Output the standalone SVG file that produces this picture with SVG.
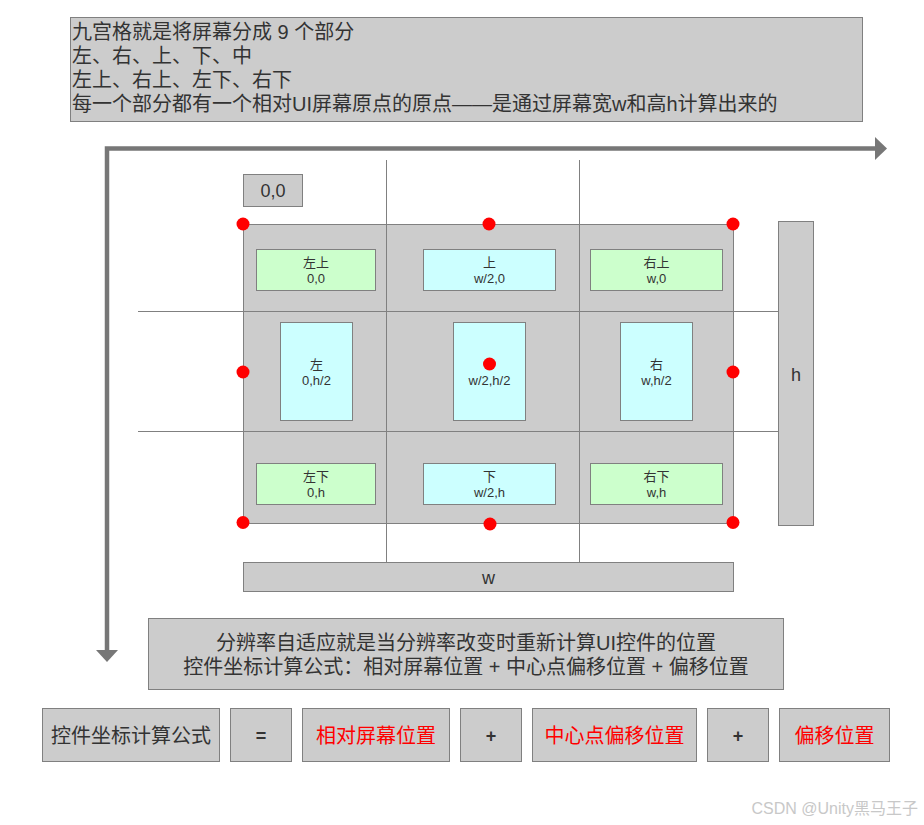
<svg xmlns="http://www.w3.org/2000/svg" width="924" height="825" viewBox="0 0 924 825">
<style>
text{font-family:"Liberation Sans","Noto Sans CJK SC",sans-serif;fill:#333333;}
.box{fill:#cccccc;stroke:#808080;stroke-width:1;}
.grn{fill:#ccffcc;stroke:#808080;stroke-width:1;}
.cyn{fill:#ccffff;stroke:#808080;stroke-width:1;}
.grid{stroke:#808080;stroke-width:1;fill:none;}
.dot{fill:#ff0000;}
.s13{font-size:13px;text-anchor:middle;}
.s20{font-size:20px;}
.c{text-anchor:middle;}
.red{fill:#ff0000;}
.axis{stroke:#777777;stroke-width:4.5;fill:none;}
.head{fill:#777777;}
</style>
<rect width="924" height="825" fill="#ffffff"/>

<g id="intro">
<rect class="box" x="70.5" y="17.5" width="792" height="104"/>
<text class="s20" x="72" y="39">九宫格就是将屏幕分成 9 个部分</text>
<text class="s20" x="72" y="63">左、右、上、下、中</text>
<text class="s20" x="72" y="87">左上、右上、左下、右下</text>
<text class="s20" x="72" y="111">每一个部分都有一个相对UI屏幕原点的原点——是通过屏幕宽w和高h计算出来的</text>
</g>

<g id="connectors">
<path class="axis" d="M107,651 V148.5 H876"/>
<polygon class="head" points="875,137 887,148.5 875,160"/>
<polygon class="head" points="96,650 118,650 107,662"/>
</g>

<g id="origin-label">
<rect class="box" x="243.5" y="174.5" width="59" height="32"/>
<text class="c" x="273" y="197" font-size="18">0,0</text>
</g>

<g id="screen">
<rect class="box" x="243.5" y="224.5" width="490" height="299"/>
</g>

<g id="grid-lines">
<line class="grid" x1="386.5" y1="160" x2="386.5" y2="562"/>
<line class="grid" x1="579.5" y1="160" x2="579.5" y2="562"/>
<line class="grid" x1="138" y1="311.5" x2="778" y2="311.5"/>
<line class="grid" x1="138" y1="431.5" x2="778" y2="431.5"/>
</g>

<g id="top-left">
<rect class="grn" x="256.5" y="249.5" width="119" height="41"/>
<text class="s13" x="316" y="267">左上</text>
<text class="s13" x="316" y="283">0,0</text>
</g>
<g id="top">
<rect class="cyn" x="423.5" y="249.5" width="132" height="41"/>
<text class="s13" x="489.5" y="267">上</text>
<text class="s13" x="489.5" y="283">w/2,0</text>
</g>
<g id="top-right">
<rect class="grn" x="590.5" y="249.5" width="132" height="41"/>
<text class="s13" x="656.5" y="267">右上</text>
<text class="s13" x="656.5" y="283">w,0</text>
</g>
<g id="left">
<rect class="cyn" x="280.5" y="322.5" width="72" height="98"/>
<text class="s13" x="316.5" y="369">左</text>
<text class="s13" x="316.5" y="385">0,h/2</text>
</g>
<g id="center">
<rect class="cyn" x="453.5" y="322.5" width="72" height="98"/>
<text class="s13" x="489.5" y="385">w/2,h/2</text>
</g>
<g id="right">
<rect class="cyn" x="620.5" y="322.5" width="72" height="98"/>
<text class="s13" x="656.5" y="369">右</text>
<text class="s13" x="656.5" y="385">w,h/2</text>
</g>
<g id="bottom-left">
<rect class="grn" x="256.5" y="463.5" width="119" height="41"/>
<text class="s13" x="316" y="481">左下</text>
<text class="s13" x="316" y="497">0,h</text>
</g>
<g id="bottom">
<rect class="cyn" x="423.5" y="463.5" width="132" height="41"/>
<text class="s13" x="489.5" y="481">下</text>
<text class="s13" x="489.5" y="497">w/2,h</text>
</g>
<g id="bottom-right">
<rect class="grn" x="590.5" y="463.5" width="132" height="41"/>
<text class="s13" x="656.5" y="481">右下</text>
<text class="s13" x="656.5" y="497">w,h</text>
</g>

<g id="anchor-dots">
<circle class="dot" cx="243" cy="224" r="6.5"/>
<circle class="dot" cx="489" cy="224" r="6.5"/>
<circle class="dot" cx="733" cy="224" r="6.5"/>
<circle class="dot" cx="243" cy="372" r="6.5"/>
<circle class="dot" cx="489.5" cy="364" r="6.5"/>
<circle class="dot" cx="733" cy="372" r="6.5"/>
<circle class="dot" cx="243" cy="522.5" r="6.5"/>
<circle class="dot" cx="490" cy="524" r="6.5"/>
<circle class="dot" cx="733" cy="522.5" r="6.5"/>
</g>

<g id="height-bar">
<rect class="box" x="778.5" y="221.5" width="35" height="304"/>
<text class="c" x="796" y="381" font-size="18">h</text>
</g>
<g id="width-bar">
<rect class="box" x="243.5" y="562.5" width="490" height="29"/>
<text class="c" x="488.5" y="584" font-size="18">w</text>
</g>

<g id="summary">
<rect class="box" x="148.5" y="618.5" width="635" height="71"/>
<text class="s20 c" x="466" y="650">分辨率自适应就是当分辨率改变时重新计算UI控件的位置</text>
<text class="s20 c" x="466" y="674">控件坐标计算公式：相对屏幕位置 + 中心点偏移位置 + 偏移位置</text>
</g>

<g id="formula-label">
<rect class="box" x="42.5" y="708.5" width="177" height="53"/>
<text class="s20 c" x="131" y="743">控件坐标计算公式</text>
</g>
<g id="formula-eq">
<rect class="box" x="230.5" y="708.5" width="61" height="53"/>
<text class="c" x="261" y="742" font-size="18" font-weight="bold">=</text>
</g>
<g id="formula-screen">
<rect class="box" x="302.5" y="708.5" width="147" height="53"/>
<text class="s20 c red" x="376" y="743">相对屏幕位置</text>
</g>
<g id="formula-plus1">
<rect class="box" x="460.5" y="708.5" width="61" height="53"/>
<text class="c" x="491" y="742" font-size="18" font-weight="bold">+</text>
</g>
<g id="formula-pivot">
<rect class="box" x="532.5" y="708.5" width="164" height="53"/>
<text class="s20 c red" x="614.5" y="743">中心点偏移位置</text>
</g>
<g id="formula-plus2">
<rect class="box" x="707.5" y="708.5" width="61" height="53"/>
<text class="c" x="738" y="742" font-size="18" font-weight="bold">+</text>
</g>
<g id="formula-offset">
<rect class="box" x="779.5" y="708.5" width="110" height="53"/>
<text class="s20 c red" x="834.5" y="743">偏移位置</text>
</g>

<text x="918" y="814" font-size="16" text-anchor="end" style="fill:#c8c8c8">CSDN @Unity黑马王子</text>
</svg>
